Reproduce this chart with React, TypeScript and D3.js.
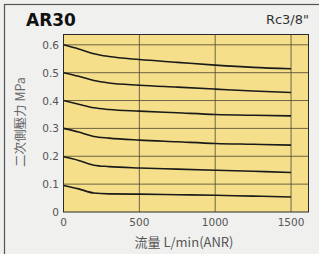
import { useEffect, useRef } from 'react'
import * as d3 from 'd3'

const flows = [0, 100, 200, 300, 500, 750, 1000, 1250, 1500]
const p06 = [0.6, 0.585, 0.568, 0.558, 0.547, 0.537, 0.527, 0.519, 0.514]
const p05 = [0.5, 0.487, 0.472, 0.463, 0.455, 0.448, 0.441, 0.434, 0.429]
const p04 = [0.4, 0.387, 0.374, 0.368, 0.362, 0.356, 0.35, 0.347, 0.345]
const p03 = [0.3, 0.287, 0.271, 0.265, 0.258, 0.252, 0.246, 0.243, 0.24]
const p02 = [0.198, 0.185, 0.168, 0.163, 0.158, 0.154, 0.15, 0.146, 0.142]
const p01 = [0.095, 0.083, 0.068, 0.065, 0.064, 0.062, 0.06, 0.057, 0.054]
const seriesList = [p06, p05, p04, p03, p02, p01]

const xTicks = [0, 500, 1000, 1500]
const yTicks = [0, 0.1, 0.2, 0.3, 0.4, 0.5, 0.6]

const App = () => {
    const ref = useRef<SVGSVGElement | null>(null)

    useEffect(() => {
        if (!ref.current) return
        const width = 319
        const height = 254
        const m = { left: 63.5, right: 308.5, top: 34.5, bottom: 212 }

        const svg = d3.select(ref.current)
        svg.selectAll('*').remove()
        svg.attr('width', width).attr('height', height)

        const font = 'DejaVu Sans, Verdana, sans-serif'

        svg.append('rect').attr('width', width).attr('height', height).attr('fill', '#f0f0ef')
        svg.append('rect')
            .attr('x', 4.5).attr('y', 4.5)
            .attr('width', width + 10).attr('height', height + 10)
            .attr('fill', 'none').attr('stroke', '#555').attr('stroke-width', 1.2)

        const x = d3.scaleLinear().domain([0, 1615]).range([m.left, m.right])
        const y = d3.scaleLinear().domain([0, 0.637]).range([m.bottom, m.top])

        svg.append('rect')
            .attr('x', m.left).attr('y', m.top)
            .attr('width', m.right - m.left).attr('height', m.bottom - m.top)
            .attr('fill', '#f5df8b')

        const grid = svg.append('g').attr('stroke', '#4a4530').attr('stroke-width', 0.8)
        grid.selectAll('line.v')
            .data(xTicks.slice(1))
            .join('line')
            .attr('x1', d => x(d)).attr('x2', d => x(d))
            .attr('y1', m.top).attr('y2', m.bottom)
        grid.selectAll('line.h')
            .data(yTicks.slice(1))
            .join('line')
            .attr('class', 'h')
            .attr('x1', m.left).attr('x2', m.right)
            .attr('y1', d => y(d)).attr('y2', d => y(d))

        const line = d3.line<number>()
            .x((_, i) => x(flows[i]))
            .y(d => y(d))
            .curve(d3.curveMonotoneX)

        svg.append('g')
            .selectAll('path')
            .data(seriesList)
            .join('path')
            .attr('d', d => line(d))
            .attr('fill', 'none')
            .attr('stroke', '#1a1a1a')
            .attr('stroke-width', 1.6)

        svg.append('rect')
            .attr('x', m.left).attr('y', m.top)
            .attr('width', m.right - m.left).attr('height', m.bottom - m.top)
            .attr('fill', 'none').attr('stroke', '#2a2a2a').attr('stroke-width', 1)

        svg.append('g')
            .selectAll('text')
            .data(yTicks)
            .join('text')
            .attr('x', 59).attr('y', d => y(d) + 4)
            .attr('text-anchor', 'end')
            .attr('font-family', font).attr('font-size', 10.5)
            .attr('fill', '#555')
            .text(d => (d === 0 ? '0' : d.toFixed(1)))

        svg.append('g')
            .selectAll('text')
            .data(xTicks)
            .join('text')
            .attr('x', d => x(d)).attr('y', 226)
            .attr('text-anchor', 'middle')
            .attr('font-family', font).attr('font-size', 10.5)
            .attr('fill', '#555')
            .text(d => d)

        svg.append('text')
            .attr('x', 184).attr('y', 247)
            .attr('text-anchor', 'middle')
            .attr('font-family', 'Noto Sans CJK JP, sans-serif').attr('font-size', 13)
            .attr('fill', '#555')
            .text('流量 L/min(ANR)')

        svg.append('text')
            .attr('transform', 'translate(25,122) rotate(-90)')
            .attr('text-anchor', 'middle')
            .attr('font-family', 'Noto Sans CJK JP, sans-serif').attr('font-size', 12.5)
            .attr('fill', '#666')
            .text('二次側壓力 MPa')

        svg.append('text')
            .attr('x', 26).attr('y', 26)
            .attr('font-family', font).attr('font-size', 17).attr('font-weight', 'bold')
            .attr('fill', '#111')
            .text('AR30')

        svg.append('text')
            .attr('x', 309).attr('y', 24)
            .attr('text-anchor', 'end')
            .attr('font-family', font).attr('font-size', 13)
            .attr('fill', '#333')
            .text('Rc3/8"')
    }, [])

    return (
        <div style={{ position: 'absolute', left: 0, top: 0 }}>
            <svg ref={ref}></svg>
        </div>
    )
}

export default App
